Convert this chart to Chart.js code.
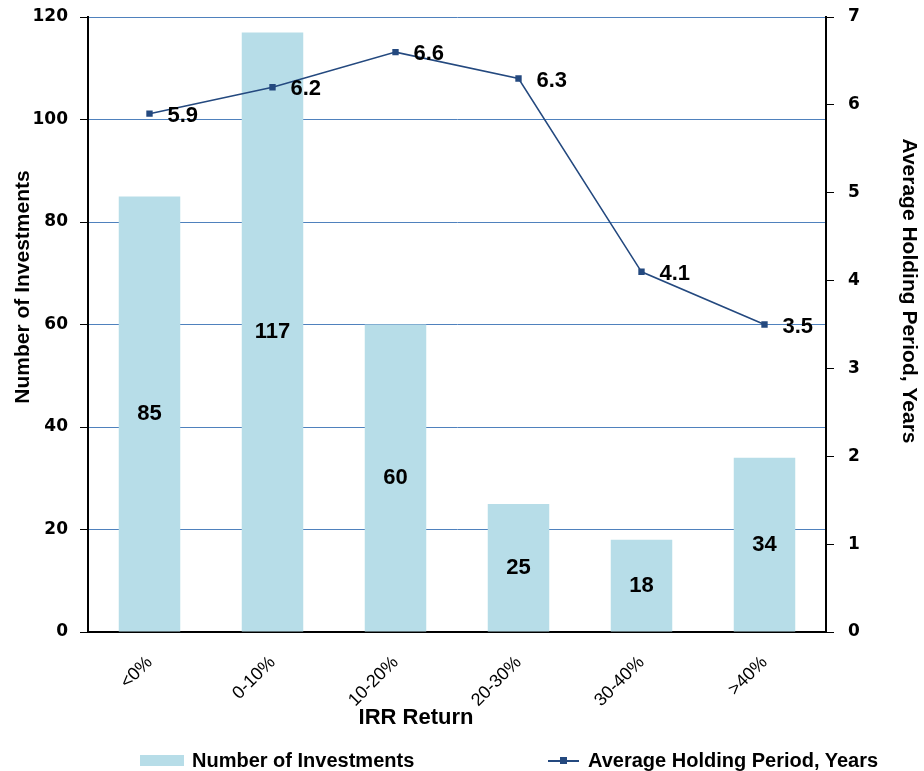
<!DOCTYPE html>
<html>
<head>
<meta charset="utf-8">
<script src="https://cdn.jsdelivr.net/npm/chart.js@4.4.1/dist/chart.umd.min.js"></script>
<style>
  html, body { margin: 0; padding: 0; background: #fff; }
  #wrap { position: relative; width: 924px; height: 771px; }
  #legend { position: absolute; left: 0; top: 749px; width: 924px; height: 22px;
            font: bold 20px "Liberation Sans", Arial, sans-serif; color: #000; }
  .item { position: absolute; top: 0; white-space: nowrap; }
  .box { position: absolute; width: 44px; height: 11px; background: #b7dde8; }
  .ln { position: absolute; width: 31px; height: 2px; background: #24497f; }
  .mk { position: absolute; width: 7px; height: 7px; background: #24497f; }
</style>
</head>
<body>
<div id="wrap">
  <canvas id="irrChart" width="924" height="771"></canvas>
  <div id="legend">
    <div class="box" style="left:140px;top:6px"></div>
    <div class="item" style="left:192px">Number of Investments</div>
    <div class="ln" style="left:548px;top:11px"></div>
    <div class="mk" style="left:560px;top:8px"></div>
    <div class="item" style="left:588px">Average Holding Period, Years</div>
  </div>
</div>
<script>
const categories = ['<0%', '0-10%', '10-20%', '20-30%', '30-40%', '>40%'];
const investments = [85, 117, 60, 25, 18, 34];
const holdingYears = [5.9, 6.2, 6.6, 6.3, 4.1, 3.5];
const investmentTicks = [0, 20, 40, 60, 80, 100, 120];
const yearTicks = [0, 1, 2, 3, 4, 5, 6, 7];

const barColor = '#b7dde8';
const lineColor = '#24497f';
const gridColor = '#4f81bd';
const tickFont = { family: 'DejaVu Sans', size: 17, weight: 'bold' };

// value labels on bars and line points
const valueLabels = {
    id: 'valueLabels',
    afterDatasetsDraw(chart) {
        const ctx = chart.ctx;
        ctx.save();
        ctx.fillStyle = '#000';
        ctx.font = 'bold 22px "Liberation Sans", Arial, sans-serif';
        chart.getDatasetMeta(0).data.forEach((bar, i) => {
            ctx.textAlign = 'center';
            ctx.textBaseline = 'middle';
            ctx.fillText(String(investments[i]), bar.x, (bar.y + bar.base) / 2);
        });
        chart.getDatasetMeta(1).data.forEach((pt, i) => {
            ctx.textAlign = 'left';
            ctx.textBaseline = 'middle';
            ctx.fillText(holdingYears[i].toFixed(1), pt.x + 18, pt.y + 2);
        });
        ctx.restore();
    }
};

// axis titles, placed where the reference has them
const axisTitles = {
    id: 'axisTitles',
    afterDraw(chart) {
        const ctx = chart.ctx;
        ctx.save();
        ctx.fillStyle = '#000';
        ctx.font = 'bold 21px "Liberation Sans", Arial, sans-serif';
        ctx.textAlign = 'center';
        ctx.textBaseline = 'middle';

        ctx.save();
        ctx.translate(23, 287);
        ctx.rotate(-Math.PI / 2);
        ctx.fillText('Number of Investments', 0, 0);
        ctx.restore();

        ctx.save();
        ctx.translate(909, 291);
        ctx.rotate(Math.PI / 2);
        ctx.fillText('Average Holding Period, Years', 0, 0);
        ctx.restore();

        ctx.font = 'bold 22px "Liberation Sans", Arial, sans-serif';
        ctx.fillText('IRR Return', 416, 718);
        ctx.restore();
    }
};

function noPad(scale) {
    scale.paddingTop = 0;
    scale.paddingBottom = 0;
}

const ctx = document.getElementById('irrChart').getContext('2d');

const irrChart = new Chart(ctx, {
    data: {
        labels: categories,
        datasets: [{
            type: 'bar',
            label: 'Number of Investments',
            data: investments,
            backgroundColor: barColor,
            borderWidth: 0,
            barPercentage: 0.5,
            categoryPercentage: 1,
            yAxisID: 'y',
            order: 1
        }, {
            type: 'line',
            label: 'Average Holding Period, Years',
            data: holdingYears,
            borderColor: lineColor,
            borderWidth: 1.5,
            pointStyle: 'rect',
            pointRadius: 4.5,
            pointBackgroundColor: lineColor,
            pointBorderColor: lineColor,
            pointBorderWidth: 0,
            tension: 0,
            yAxisID: 'y1',
            order: 0
        }]
    },
    options: {
        responsive: false,
        animation: false,
        layout: { padding: { top: 17, bottom: 39, left: 0, right: 0 } },
        plugins: {
            legend: { display: false },
            tooltip: { enabled: false }
        },
        scales: {
            x: {
                grid: { display: true, drawOnChartArea: false, drawTicks: false },
                border: { color: '#000', width: 2 },
                ticks: {
                    color: '#000',
                    font: { family: '"Liberation Sans Narrow", "Liberation Sans", Arial', size: 18 },
                    minRotation: 45,
                    maxRotation: 45,
                    padding: 20
                },
                afterFit(scale) {
                    scale.height = 100;
                    scale.paddingLeft = 0;
                    scale.paddingRight = 0;
                }
            },
            y: {
                position: 'left',
                min: investmentTicks[0],
                max: investmentTicks[investmentTicks.length - 1],
                afterBuildTicks(scale) { scale.ticks = investmentTicks.map(v => ({ value: v })); },
                grid: { color: gridColor, lineWidth: 1, tickColor: '#000', tickLength: 8 },
                border: { color: '#000', width: 2 },
                ticks: { color: '#000', font: tickFont, padding: 12 },
                afterFit(scale) { scale.width = 88; noPad(scale); }
            },
            y1: {
                position: 'right',
                min: yearTicks[0],
                max: yearTicks[yearTicks.length - 1],
                afterBuildTicks(scale) { scale.ticks = yearTicks.map(v => ({ value: v })); },
                grid: { drawOnChartArea: false, tickColor: '#000', tickLength: 8 },
                border: { color: '#000', width: 2 },
                ticks: { color: '#000', font: tickFont, padding: 14 },
                afterFit(scale) { scale.width = 98; noPad(scale); }
            }
        }
    },
    plugins: [valueLabels, axisTitles]
});
</script>
</body>
</html>
